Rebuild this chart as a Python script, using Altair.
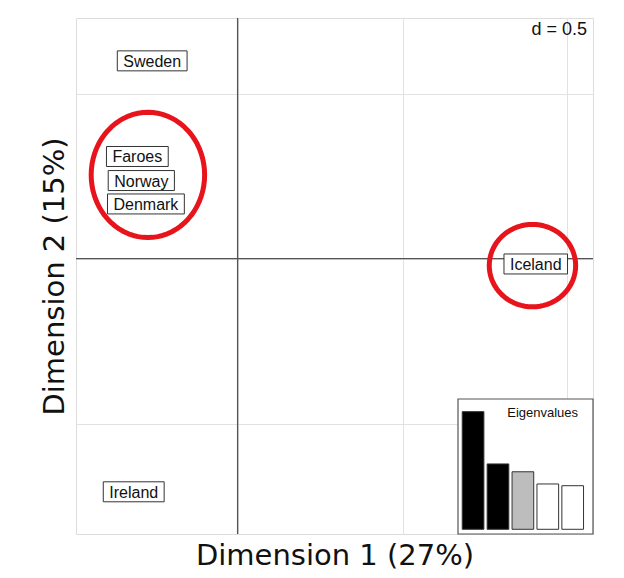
import altair as alt
import pandas as pd

# ---- data ----
pops = ["Sweden", "Faroes", "Norway", "Denmark", "Iceland", "Ireland"]
dim1 = [-0.259, -0.304, -0.292, -0.278, 0.904, -0.315]
dim2 = [0.600, 0.310, 0.237, 0.166, -0.016, -0.707]

eig_rank = [0, 1, 2, 3, 4]
eig_vals = [27.0, 15.0, 13.2, 10.4, 10.0]
eig_fill = ["#000000", "#000000", "#bdbdbd", "#ffffff", "#ffffff"]

grid_vals = [-0.5, 0.0, 0.5, 1.0]
d_label = "d = 0.5"

# hand-drawn highlight loops (centre x, centre y, radius x, radius y)
loops = [(-0.272, 0.254, 0.172, 0.190), (0.894, -0.021, 0.131, 0.125)]

# ---- layout ----
W, H = 517, 516
PX = 330.0  # pixels per data unit
xdom = [-0.49, 1.0776]
ydom = [-0.835, 0.730]
xs = alt.Scale(domain=xdom, nice=False, zero=False)
ys = alt.Scale(domain=ydom, nice=False, zero=False)

# Helvetica widths (per 1000 em) for box sizing
cw = {"S": 667, "w": 722, "e": 556, "d": 556, "n": 556, "F": 611, "a": 556,
      "r": 333, "o": 556, "N": 722, "y": 500, "D": 722, "m": 833, "k": 500,
      "I": 278, "c": 500, "l": 222, "s": 500}
FS = 16
def text_w(s):
    return sum(cw.get(ch, 556) for ch in s) * FS / 1000.0

lab = pd.DataFrame({"pop": pops, "x": dim1, "y": dim2})
lab["hw"] = [(text_w(p) + 12) / 2 / PX for p in pops]
lab["x1"] = lab["x"] - lab["hw"]
lab["x2"] = lab["x"] + lab["hw"]
lab["y1"] = lab["y"] - 10 / PX
lab["y2"] = lab["y"] + 10 / PX

xaxis = alt.Axis(values=grid_vals, grid=True, gridColor="#e2e2e2", gridWidth=1,
                 labels=False, ticks=False, domain=False,
                 title="Dimension 1 (27%)", titleFont="DejaVu Sans",
                 titleFontSize=29, titleFontWeight="normal", titleColor="#111",
                 titlePadding=7)
yaxis = alt.Axis(values=grid_vals, grid=True, gridColor="#e2e2e2", gridWidth=1,
                 labels=False, ticks=False, domain=False,
                 title="Dimension 2 (15%)", titleFont="DejaVu Sans",
                 titleFontSize=29, titleFontWeight="normal", titleColor="#111",
                 titlePadding=7)

zero_df = pd.DataFrame({"v": [0.0]})
vrule = alt.Chart(zero_df).mark_rule(color="#555", strokeWidth=1.3).encode(
    x=alt.X("v:Q", scale=xs, axis=xaxis))
hrule = alt.Chart(zero_df).mark_rule(color="#555", strokeWidth=1.3).encode(
    y=alt.Y("v:Q", scale=ys, axis=yaxis))

boxes = alt.Chart(lab).mark_rect(fill="white", stroke="#333", strokeWidth=1).encode(
    x=alt.X("x1:Q", scale=xs, axis=xaxis), x2="x2:Q",
    y=alt.Y("y1:Q", scale=ys, axis=yaxis), y2="y2:Q")
texts = alt.Chart(lab).mark_text(font="Liberation Sans", fontSize=FS, color="#111",
                                 baseline="middle", dy=1).encode(
    x=alt.X("x:Q", scale=xs, axis=xaxis),
    y=alt.Y("y:Q", scale=ys, axis=yaxis),
    text="pop:N")

dlab = alt.Chart(pd.DataFrame({"x": [xdom[1]], "y": [ydom[1]], "t": [d_label]})).mark_text(
    font="Liberation Sans", fontSize=18, align="right", baseline="top",
    dx=-6, dy=3, color="#111").encode(
    x=alt.X("x:Q", scale=xs, axis=xaxis),
    y=alt.Y("y:Q", scale=ys, axis=yaxis), text="t:N")

loop_layers = []
for (cx, cy, rx, ry) in loops:
    loop_layers.append(
        alt.Chart(alt.sequence(0, 365, 5, as_="t")).transform_calculate(
            lx=f"{cx} + {rx}*cos(datum.t*PI/180)",
            ly=f"{cy} + {ry}*sin(datum.t*PI/180)"
        ).mark_line(color="#e8141c", strokeWidth=5, strokeCap="round",
                    strokeJoin="round").encode(
            x=alt.X("lx:Q", scale=xs, axis=xaxis),
            y=alt.Y("ly:Q", scale=ys, axis=yaxis),
            order="t:Q"))

main = alt.layer(vrule, hrule, boxes, texts, dlab, *loop_layers)

# ---- eigenvalue inset ----
ixdom = [-0.17, 5.25]
iydom = [-1.08, 29.9]
ixs = alt.Scale(domain=ixdom, range=[382, 517], nice=False, zero=False)
iys = alt.Scale(domain=iydom, range=[516, 381], nice=False, zero=False)

eig = pd.DataFrame({"r": eig_rank, "v": eig_vals, "f": eig_fill})
eig["r2"] = eig["r"] + 0.87
eig["b"] = 0.0

ibox = alt.Chart(pd.DataFrame({"a": [ixdom[0]], "b": [ixdom[1]],
                               "c": [iydom[0]], "d": [iydom[1]]})).mark_rect(
    fill="white", stroke="#555", strokeWidth=1.2).encode(
    x=alt.X("a:Q", scale=ixs, axis=None), x2="b:Q",
    y=alt.Y("c:Q", scale=iys, axis=None), y2="d:Q")
ibars = alt.Chart(eig).mark_rect(stroke="#333", strokeWidth=1).encode(
    x=alt.X("r:Q", scale=ixs, axis=None), x2="r2:Q",
    y=alt.Y("b:Q", scale=iys, axis=None), y2="v:Q",
    fill=alt.Fill("f:N", scale=None))
itext = alt.Chart(pd.DataFrame({"x": [4.65], "y": [26.7], "t": ["Eigenvalues"]})).mark_text(
    font="Liberation Sans", fontSize=13, align="right", baseline="middle", color="#111").encode(
    x=alt.X("x:Q", scale=ixs, axis=None),
    y=alt.Y("y:Q", scale=iys, axis=None), text="t:N")

inset = alt.layer(ibox, ibars, itext)

chart = alt.layer(main, inset).resolve_scale(x="independent", y="independent").properties(
    width=W, height=H,
    autosize=alt.AutoSizeParams(type="none"),
    padding={"left": 68, "top": 10, "right": 20, "bottom": 40},
).configure_view(stroke="#555", strokeWidth=1.2).configure(background="white")

chart.save("out.html", embed_options={"renderer": "svg", "actions": False})
